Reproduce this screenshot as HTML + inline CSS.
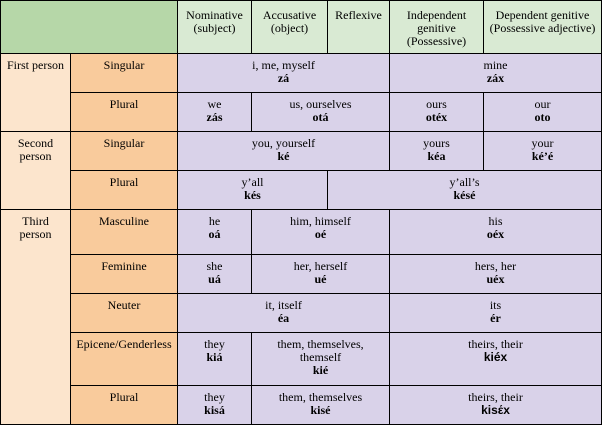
<!DOCTYPE html>
<html><head><meta charset="utf-8"><style>
body{margin:0;width:602px;height:425px;background:#fff;position:relative;overflow:hidden;font-family:'Liberation Serif','Times New Roman',Times,'DejaVu Serif',serif;font-size:12px;color:#000}
.c{position:absolute;box-sizing:border-box;border:1px solid #000;text-align:center;padding-top:5px;line-height:13px;font-family:'Liberation Serif','Times New Roman',Times,serif}
.g{background:#b6d7a8}.h{background:#d9ead3}.p{background:#fce5cd}.o{background:#f9cb9c}.v{background:#d9d2e9}
b{font-weight:bold}
.s{font-family:'Liberation Sans',Arial,sans-serif}
</style></head><body>
<div class="c g" style="left:0;top:0;width:178px;height:54px"></div>
<div class="c h" style="left:177px;top:0;width:75px;height:54px;padding-top:8px">Nominative<br>(subject)</div>
<div class="c h" style="left:251px;top:0;width:77px;height:54px;padding-top:8px">Accusative<br>(object)</div>
<div class="c h" style="left:327px;top:0;width:63px;height:54px;padding-top:8px">Reflexive</div>
<div class="c h" style="left:389px;top:0;width:95px;height:54px;padding-top:8px">Independent<br>genitive<br>(Possessive)</div>
<div class="c h" style="left:483px;top:0;width:119px;height:54px;padding-top:8px">Dependent genitive<br>(Possessive adjective)</div>

<div class="c p" style="left:0;top:53px;width:71px;height:79px">First person</div>
<div class="c o" style="left:70px;top:53px;width:108px;height:40px">Singular</div>
<div class="c v" style="left:177px;top:53px;width:213px;height:40px">i, me, myself<br><b>zá</b></div>
<div class="c v" style="left:389px;top:53px;width:213px;height:40px">mine<br><b>záx</b></div>
<div class="c o" style="left:70px;top:92px;width:108px;height:40px">Plural</div>
<div class="c v" style="left:177px;top:92px;width:75px;height:40px">we<br><b>zás</b></div>
<div class="c v" style="left:251px;top:92px;width:139px;height:40px">us, ourselves<br><b>otá</b></div>
<div class="c v" style="left:389px;top:92px;width:95px;height:40px">ours<br><b>otéx</b></div>
<div class="c v" style="left:483px;top:92px;width:119px;height:40px">our<br><b>oto</b></div>

<div class="c p" style="left:0;top:131px;width:71px;height:79px">Second<br>person</div>
<div class="c o" style="left:70px;top:131px;width:108px;height:40px">Singular</div>
<div class="c v" style="left:177px;top:131px;width:213px;height:40px">you, yourself<br><b>ké</b></div>
<div class="c v" style="left:389px;top:131px;width:95px;height:40px">yours<br><b>kéa</b></div>
<div class="c v" style="left:483px;top:131px;width:119px;height:40px">your<br><b>ké’é</b></div>
<div class="c o" style="left:70px;top:170px;width:108px;height:40px">Plural</div>
<div class="c v" style="left:177px;top:170px;width:151px;height:40px">y’all<br><b>kés</b></div>
<div class="c v" style="left:327px;top:170px;width:275px;height:40px">y’all’s<br><b>késé</b></div>

<div class="c p" style="left:0;top:209px;width:71px;height:216px">Third<br>person</div>
<div class="c o" style="left:70px;top:209px;width:108px;height:46px">Masculine</div>
<div class="c v" style="left:177px;top:209px;width:75px;height:46px">he<br><b>oá</b></div>
<div class="c v" style="left:251px;top:209px;width:139px;height:46px">him, himself<br><b>oé</b></div>
<div class="c v" style="left:389px;top:209px;width:213px;height:46px">his<br><b>oéx</b></div>
<div class="c o" style="left:70px;top:254px;width:108px;height:40px">Feminine</div>
<div class="c v" style="left:177px;top:254px;width:75px;height:40px">she<br><b>uá</b></div>
<div class="c v" style="left:251px;top:254px;width:139px;height:40px">her, herself<br><b>ué</b></div>
<div class="c v" style="left:389px;top:254px;width:213px;height:40px">hers, her<br><b>uéx</b></div>
<div class="c o" style="left:70px;top:293px;width:108px;height:40px">Neuter</div>
<div class="c v" style="left:177px;top:293px;width:213px;height:40px">it, itself<br><b>éa</b></div>
<div class="c v" style="left:389px;top:293px;width:213px;height:40px">its<br><b>ér</b></div>
<div class="c o" style="left:70px;top:332px;width:108px;height:54px">Epicene/Genderless</div>
<div class="c v" style="left:177px;top:332px;width:75px;height:54px">they<br><b>kiá</b></div>
<div class="c v" style="left:251px;top:332px;width:139px;height:54px">them, themselves,<br>themself<br><b>kié</b></div>
<div class="c v" style="left:389px;top:332px;width:213px;height:54px">theirs, their<br><b class="s">kiéx</b></div>
<div class="c o" style="left:70px;top:385px;width:108px;height:40px">Plural</div>
<div class="c v" style="left:177px;top:385px;width:75px;height:40px">they<br><b>kisá</b></div>
<div class="c v" style="left:251px;top:385px;width:139px;height:40px">them, themselves<br><b>kisé</b></div>
<div class="c v" style="left:389px;top:385px;width:213px;height:40px">theirs, their<br><b class="s">kisέx</b></div>
</body></html>
